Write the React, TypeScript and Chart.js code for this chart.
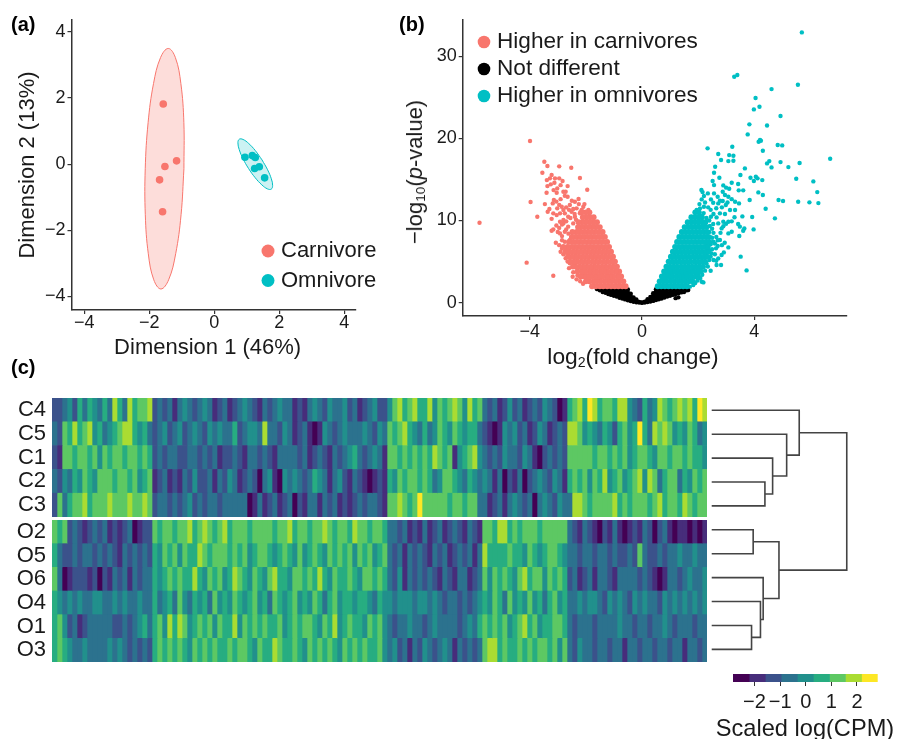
import React, { useEffect, useRef } from "react";
import { Chart, registerables } from "chart.js";

Chart.register(...registerables);

const FONT = "'Liberation Sans', Arial, sans-serif";
const INK = "#1a1a1a";
const AXIS = "#333333";
const RED = "#F8766D";
const TEAL = "#00BFC4";

// ---------- Panel (a) ----------
const carnivoreX = [-1.568, -1.158, -1.517, -1.681, -1.589];
const carnivoreY = [1.82, 0.1, -0.07, -0.474, -1.44];
const omnivoreX = [0.945, 1.17, 1.262, 1.242, 1.386, 1.55];
const omnivoreY = [0.21, 0.26, 0.2, -0.13, -0.08, -0.414];
const carnivoreEllipse = [
  [-0.932, -0.137], [-1.02, -1.529], [-1.186, -2.709], [-1.403, -3.498], [-1.64, -3.775],
  [-1.859, -3.498], [-2.028, -2.709], [-2.12, -1.529], [-2.122, -0.137], [-2.034, 1.255],
  [-1.868, 2.435], [-1.651, 3.224], [-1.414, 3.5], [-1.195, 3.224], [-1.026, 2.435],
  [-0.934, 1.255], [-0.932, -0.137],
];
const omnivoreEllipse = [
  [1.469, 0.13], [1.265, 0.409], [1.06, 0.626], [0.886, 0.748], [0.77, 0.755],
  [0.728, 0.648], [0.768, 0.442], [0.883, 0.169], [1.055, -0.13], [1.259, -0.409],
  [1.464, -0.626], [1.638, -0.748], [1.754, -0.755], [1.796, -0.648], [1.756, -0.442],
  [1.641, -0.169], [1.469, 0.13],
];

// ---------- Panel (b) ----------
const carnivoreDenseRows: [number, number[]][] = [
  [2.0, [-0.58, -0.7, -0.84, -0.97, -1.1, -1.24, -1.38, -1.5, -1.64, -1.78]],
  [2.6, [-0.66, -0.8, -0.93, -1.07, -1.2, -1.33, -1.47, -1.6, -1.73, -1.87, -2.0]],
  [3.2, [-0.74, -0.87, -1.01, -1.14, -1.27, -1.41, -1.54, -1.67, -1.81, -1.94, -2.07, -2.18]],
  [3.8, [-0.81, -0.94, -1.08, -1.22, -1.35, -1.48, -1.62, -1.75, -1.88, -2.02, -2.15, -2.3]],
  [4.4, [-0.89, -1.02, -1.15, -1.29, -1.42, -1.56, -1.69, -1.82, -1.96, -2.09, -2.22, -2.36, -2.46]],
  [5.0, [-0.96, -1.09, -1.23, -1.36, -1.5, -1.63, -1.76, -1.9, -2.03, -2.16, -2.3, -2.42, -2.56]],
  [5.6, [-1.03, -1.17, -1.3, -1.43, -1.57, -1.7, -1.83, -1.97, -2.1, -2.24, -2.37, -2.5, -2.64]],
  [6.2, [-1.1, -1.24, -1.37, -1.51, -1.64, -1.77, -1.91, -2.04, -2.17, -2.31, -2.44, -2.58, -2.72]],
  [6.8, [-1.17, -1.3, -1.44, -1.57, -1.71, -1.84, -1.97, -2.11, -2.24, -2.38, -2.5, -2.65, -2.8]],
  [7.4, [-1.24, -1.38, -1.51, -1.64, -1.78, -1.91, -2.05, -2.18, -2.31, -2.45, -2.6]],
  [8.0, [-1.32, -1.45, -1.58, -1.72, -1.85, -1.99, -2.12, -2.25, -2.38, -2.5]],
  [8.6, [-1.4, -1.53, -1.67, -1.8, -1.93, -2.06, -2.2, -2.33, -2.48]],
  [9.2, [-1.5, -1.63, -1.77, -1.9, -2.03, -2.16, -2.28]],
  [9.8, [-1.6, -1.73, -1.86, -2.0, -2.13, -2.26]],
  [10.4, [-1.72, -1.85, -1.98, -2.11]],
  [11.0, [-1.87, -2.0, -2.14]],
];
const carnivoreSparse = [
  [-5.79, 9.73], [-3.99, 19.67], [-3.48, 17.15], [-3.37, 16.63], [-2.95, 16.59], [-2.52, 16.42],
  [-3.55, 15.82], [-2.21, 15.17], [-1.95, 13.75], [-3.97, 12.25], [-3.73, 10.46], [-4.11, 4.87],
  [-3.16, 3.28], [-3.22, 15.53], [-3.28, 15.13], [-3.1, 15.13], [-2.95, 15.13], [-2.83, 14.8],
  [-3.39, 14.92], [-3.37, 14.19], [-3.4, 13.38], [-3.02, 13.91], [-2.65, 14.19], [-3.04, 13.38],
  [-2.8, 13.5], [-2.72, 13.5], [-3.46, 12.0], [-3.14, 12.49], [-3.18, 12.08], [-2.26, 12.61],
  [-2.39, 12.29], [-2.57, 11.88], [-3.36, 11.07], [-3.16, 10.87], [-3.02, 11.48], [-2.86, 11.68],
  [-2.8, 11.27], [-2.92, 10.87], [-2.75, 10.87], [-2.51, 11.07], [-2.33, 11.48], [-2.09, 11.68],
  [-1.91, 11.27], [-2.92, 9.85], [-2.8, 10.06], [-2.63, 10.46], [-2.45, 9.65], [-3.22, 8.76],
  [-3.16, 8.92], [-2.92, 8.43], [-2.75, 8.64], [-2.63, 9.25], [-3.07, 7.3], [-2.39, 10.46],
  [-2.21, 10.87], [-3.04, 10.66], [-2.8, 9.65], [-2.57, 7.62], [-2.75, 7.42], [-2.69, 6.61],
  [-2.47, 3.16], [-2.33, 2.84], [-2.15, 3.37], [-2.57, 4.79], [-2.45, 4.38], [-2.63, 6.0], [-2.51, 5.6],
  [-2.9, 12.6], [-2.65, 12.9], [-2.5, 12.4], [-2.7, 11.6], [-3.05, 12.3], [-2.95, 11.9], [-3.3, 11.4],
  [-3.22, 10.2], [-3.05, 9.4], [-2.95, 9.1], [-2.85, 9.5], [-2.7, 9.9], [-2.55, 10.3], [-2.7, 8.9],
  [-2.62, 8.4], [-2.85, 8.1], [-3.0, 8.6], [-2.85, 7.6], [-2.95, 7.0], [-2.85, 6.6], [-2.9, 6.2],
  [-2.8, 5.9], [-2.72, 5.4], [-2.65, 5.0], [-2.6, 4.2], [-2.45, 3.7], [-2.3, 3.3], [-2.2, 2.6],
  [-2.1, 2.3], [-2.35, 10.1], [-2.2, 11.0], [-2.4, 10.8], [-2.15, 11.3], [-2.05, 12.0], [-2.25, 12.0],
  [-2.45, 11.4], [-2.6, 11.3], [-3.25, 14.4], [-3.12, 14.6], [-2.9, 14.3], [-3.15, 13.7], [-2.75, 13.0],
];
const omnivoreDenseRows: [number, number[]][] = [
  [2.0, [0.56, 0.69, 0.82, 0.95, 1.08, 1.21, 1.34, 1.47, 1.6]],
  [2.6, [0.63, 0.76, 0.89, 1.03, 1.16, 1.29, 1.42, 1.55, 1.68, 1.81]],
  [3.2, [0.71, 0.84, 0.97, 1.1, 1.24, 1.37, 1.5, 1.63, 1.76, 1.9, 2.0]],
  [3.8, [0.79, 0.92, 1.05, 1.18, 1.32, 1.45, 1.58, 1.71, 1.84, 1.97, 2.1]],
  [4.4, [0.87, 1.0, 1.13, 1.26, 1.4, 1.53, 1.66, 1.79, 1.92, 2.05, 2.18]],
  [5.0, [0.95, 1.08, 1.21, 1.34, 1.47, 1.6, 1.73, 1.87, 2.0, 2.13, 2.25]],
  [5.6, [1.03, 1.16, 1.29, 1.42, 1.55, 1.68, 1.82, 1.95, 2.08, 2.21, 2.32]],
  [6.2, [1.1, 1.23, 1.37, 1.5, 1.63, 1.76, 1.89, 2.02, 2.15, 2.28, 2.38]],
  [6.8, [1.18, 1.31, 1.44, 1.57, 1.7, 1.83, 1.96, 2.09, 2.22, 2.35]],
  [7.4, [1.25, 1.38, 1.51, 1.64, 1.77, 1.9, 2.03, 2.16, 2.29, 2.4]],
  [8.0, [1.33, 1.46, 1.59, 1.72, 1.85, 1.98, 2.11, 2.24, 2.36]],
  [8.6, [1.42, 1.55, 1.68, 1.81, 1.94, 2.07, 2.2, 2.32]],
  [9.2, [1.52, 1.65, 1.78, 1.91, 2.04, 2.17, 2.3]],
  [9.8, [1.63, 1.76, 1.89, 2.02, 2.15, 2.26]],
  [10.4, [1.76, 1.89, 2.02, 2.14]],
  [11.0, [1.9, 2.03]],
];
const omnivoreSparse = [
  [5.7, 32.89], [5.56, 26.52], [4.62, 25.99], [3.4, 27.7], [3.29, 27.49], [4.05, 24.9], [4.19, 23.84],
  [3.99, 23.52], [4.94, 22.71], [3.83, 21.7], [4.46, 21.57], [3.77, 20.48], [4.21, 19.79], [4.16, 19.59],
  [4.24, 19.71], [3.22, 18.98], [4.84, 19.18], [5.0, 19.14], [2.34, 18.78], [4.31, 18.49], [2.72, 18.09],
  [3.11, 17.96], [3.26, 17.88], [2.82, 17.36], [3.08, 17.23], [3.26, 17.27], [6.71, 17.52], [4.94, 17.11],
  [5.62, 16.99], [4.54, 17.23], [4.46, 16.95], [5.22, 16.5], [4.62, 16.46], [2.61, 16.54], [3.67, 16.34],
  [2.57, 15.82], [3.51, 15.53], [2.76, 15.21], [3.87, 15.21], [4.06, 15.33], [4.12, 15.13], [3.99, 14.8],
  [4.29, 14.92], [5.5, 15.09], [6.11, 14.76], [2.52, 14.8], [2.57, 14.31], [3.43, 14.44], [2.9, 14.27],
  [2.12, 13.71], [2.16, 13.46], [3.11, 13.87], [2.88, 13.5], [3.45, 13.67], [3.61, 13.67], [4.15, 13.42],
  [4.31, 13.1], [6.25, 13.46], [2.57, 13.3], [2.96, 13.1], [3.08, 12.9], [2.21, 12.98], [2.13, 12.57],
  [2.46, 12.57], [2.78, 12.41], [2.88, 12.37], [3.84, 12.49], [4.87, 12.49], [5.03, 12.37], [5.57, 12.29],
  [5.97, 12.21], [6.29, 12.12], [3.32, 12.29], [3.46, 12.08], [2.54, 12.17], [2.72, 12.08], [2.99, 11.88],
  [2.36, 11.6], [2.21, 11.68], [2.07, 11.48], [1.95, 11.27], [4.41, 11.44], [3.14, 11.27], [3.32, 11.27],
  [2.78, 10.87], [2.96, 10.79], [3.58, 10.5], [3.93, 10.42], [4.74, 10.26], [2.46, 10.46], [2.66, 10.38],
  [2.9, 9.85], [3.08, 9.85], [2.72, 9.65], [2.54, 9.57], [2.42, 9.33], [3.43, 9.57], [3.49, 9.25],
  [3.65, 9.04], [3.98, 8.92], [3.61, 8.76], [2.84, 9.04], [3.08, 8.43], [3.2, 8.64], [3.47, 8.11],
  [2.54, 7.42], [2.78, 7.62], [2.42, 8.03], [3.08, 6.73], [2.64, 6.61], [2.92, 6.12], [3.52, 5.6],
  [2.72, 5.39], [2.84, 5.8], [2.66, 4.58], [2.82, 4.58], [3.73, 3.93], [2.45, 3.89], [2.13, 2.55],
  [2.19, 2.47], [1.83, 2.15], [1.71, 1.95], [2.3, 4.79], [2.48, 6.0],
  [2.3, 10.3], [2.2, 10.9], [2.1, 10.6], [2.4, 10.0], [2.5, 9.0], [2.4, 8.6], [2.55, 8.5], [2.65, 8.0],
  [2.7, 7.6], [2.5, 7.9], [2.6, 7.2], [2.7, 6.9], [2.85, 7.0], [2.95, 7.3], [2.5, 6.5], [2.45, 5.6],
  [2.6, 5.9], [2.55, 5.2], [2.65, 5.1], [2.4, 5.2], [2.35, 4.4], [2.25, 3.9], [2.15, 3.4], [2.08, 3.0],
  [1.98, 2.7], [1.9, 2.4], [2.3, 6.9], [2.45, 7.1], [2.8, 8.5], [2.9, 9.3], [3.0, 9.6], [3.2, 9.9],
  [3.3, 10.4], [2.55, 10.8], [2.45, 11.3], [2.65, 11.5], [2.85, 11.6], [3.05, 12.2], [3.2, 12.6],
  [2.7, 12.9], [3.0, 14.0], [3.2, 14.6], [2.25, 12.2], [2.05, 12.0], [2.35, 13.3],
];
const notDifferentColumns: [number, number[]][] = [
  [-1.6, [1.65]], [-1.5, [1.5, 1.75]], [-1.4, [1.3, 1.7]], [-1.3, [1.2, 1.6, 1.9]],
  [-1.2, [1.05, 1.4, 1.75]], [-1.1, [0.95, 1.3, 1.7, 1.95]], [-1.0, [0.85, 1.2, 1.55, 1.9]],
  [-0.9, [0.75, 1.1, 1.45, 1.8]], [-0.8, [0.6, 0.95, 1.3, 1.65, 1.95]], [-0.7, [0.5, 0.85, 1.2, 1.55, 1.9]],
  [-0.6, [0.4, 0.75, 1.05, 1.4, 1.75]], [-0.5, [0.3, 0.6, 0.95, 1.25, 1.6]], [-0.4, [0.2, 0.5, 0.8, 1.1]],
  [-0.3, [0.12, 0.4, 0.65]], [-0.2, [0.06, 0.28, 0.4]], [-0.1, [0.03, 0.1]], [0, [0, 0.02]],
  [0.1, [0.03, 0.12]], [0.2, [0.07, 0.3, 0.42]], [0.3, [0.14, 0.42, 0.7]], [0.4, [0.22, 0.55, 0.85, 1.15]],
  [0.5, [0.32, 0.65, 1.0, 1.35, 1.65]], [0.6, [0.42, 0.78, 1.1, 1.45, 1.8]], [0.7, [0.5, 0.85, 1.25, 1.6, 1.9]],
  [0.8, [0.62, 1.0, 1.35, 1.7, 1.95]], [0.9, [0.75, 1.1, 1.5, 1.85]], [1.0, [0.85, 1.2, 1.6, 1.9]],
  [1.1, [0.95, 1.3, 1.7, 1.95]], [1.2, [0.55, 1.05, 1.45, 1.8]], [1.3, [0.65, 1.15, 1.55, 1.85]],
  [1.4, [1.25, 1.6]], [1.5, [1.3, 1.65]], [1.6, [1.5, 1.7]], [1.65, [1.55]],
];

// ---------- Panel (c) ----------
const viridisBins = ["#440154", "#472D7B", "#3B528B", "#2C728E", "#21908C", "#27AD81", "#5DC863", "#AADC32", "#FDE725"];
const colorEdges = [-2.84, -2.21, -1.58, -0.96, -0.33, 0.3, 0.93, 1.55, 2.18, 2.81];
const carnivoreRowNames = ["C4", "C5", "C1", "C2", "C3"];
const omnivoreRowNames = ["O2", "O5", "O6", "O4", "O1", "O3"];

const C4 = [
  2,2,3,4,2, 5,3,5,4,3, 5,3,7,5,3, 7,5,6,6,7,
  2,3,2,3,1, 3,4,3,2,3, 4,3,1,2,3, 1,2,3,4,3, 2,1,3,2,3, 4,3,3,1,2, 1,3,4,3,2, 4,3,3,4,2, 3,1,2,3,4, 2,2,
  4,6,7,5,6, 7,5,5,7,4, 6,5,6,7,6, 4,7,5,6,
  3,2,3,1,2, 4,2,3,1,2, 3,2,4,3,2, 0,1,
  5,6,7,5,8, 7,5,6,6,5, 7,7,4,3,2, 5,3,4,7,6, 5,6,7,6,7, 5,8,7,
];
const C5 = [
  3,2,6,5,7, 5,6,7,4,5, 3,4,5,6,7, 7,5,4,5,3,
  2,3,4,2,3, 4,2,3,4,3, 2,4,3,4,3, 3,5,2,3,4, 4,3,7,3,3, 2,4,3,1,2, 3,1,0,1,4, 3,2,3,4,3, 3,3,4,3,2, 4,3,
  6,5,6,7,5, 4,3,5,3,4, 6,5,4,6,5, 4,5,5,3,
  2,1,0,1,4, 3,4,2,3,1, 2,4,3,1,2, 3,2,
  7,7,6,4,5, 4,3,5,4,2, 5,6,4,5,8, 5,3,7,6,7, 6,4,5,4,6, 5,3,4,
];
const C1 = [
  2,1,6,6,5, 6,6,5,6,4, 6,5,6,6,5, 6,6,5,6,5,
  2,3,2,3,3, 2,2,3,3,2, 3,2,3,1,2, 2,3,2,1,3, 3,2,3,2,1, 3,3,3,3,2, 3,1,2,3,2, 1,3,2,3,4, 5,3,2,3,4, 3,1,
  6,6,5,6,5, 6,5,6,5,7, 6,5,6,1,4, 5,6,7,4,
  3,2,3,2,4, 3,3,2,4,3, 1,0,2,3,2, 3,2,
  6,6,6,6,6, 5,6,6,5,6, 5,6,4,5,6, 6,5,4,6,6, 5,6,6,5,6, 5,5,4,
];
const C2 = [
  3,2,4,3,5, 4,6,5,4,6, 6,6,5,6,6, 5,6,4,5,6,
  1,2,3,1,2, 1,3,2,4,2, 2,3,1,3,2, 4,3,1,2,3, 2,0,3,4,1, 0,4,3,4,3, 2,3,5,4,3, 1,3,4,2,1, 3,2,1,0,1, 2,1,
  5,4,6,5,6, 6,5,6,5,3, 4,6,6,5,4, 3,5,4,3,
  4,3,1,3,0, 2,1,3,0,2, 3,4,3,2,4, 3,1,
  5,6,5,6,4, 6,5,7,4,5, 6,4,5,6,7, 4,7,6,3,5, 6,6,3,5,4, 6,5,6,
];
const C3 = [
  2,6,3,5,6, 6,7,5,6,6, 6,7,6,6,6, 7,6,6,7,6,
  2,3,3,2,3, 2,3,4,2,3, 2,3,3,2,3, 3,3,3,3,0, 1,3,1,2,3, 1,2,3,0,2, 1,3,3,1,3, 2,3,1,2,1, 2,3,2,3,3, 2,1,
  6,6,7,6,5, 6,8,6,6,6, 6,6,5,6,6, 5,6,6,3,
  3,1,2,3,1, 3,4,3,2,3, 0,3,4,3,2, 4,3,
  3,7,7,6,5, 6,6,6,6,7, 5,6,5,6,6, 6,5,6,7,5, 6,6,5,7,6, 5,6,6,
];
const O2 = [
  6,5,6,2,3, 2,1,2,3,2, 3,1,2,1,2, 3,0,1,2,2,
  6,5,6,6,5, 6,6,7,5,6, 7,6,5,6,7, 5,6,6,6,5, 6,6,6,6,5, 6,6,7,5,6, 6,5,6,6,7, 6,5,6,6,5, 7,6,6,5,6, 6,5,
  3,3,2,3,1, 2,1,3,1,2, 3,1,2,3,2, 1,3,2,1,
  6,6,5,7,7, 5,6,5,6,6, 6,5,6,6,6, 6,6,
  3,2,1,3,2, 1,0,2,1,3, 1,0,1,2,1, 3,2,0,2,3, 1,0,1,1,0, 1,0,1,
];
const O5 = [
  5,3,2,2,3, 2,3,3,2,3, 2,3,2,1,3, 2,3,2,3,2,
  5,4,6,5,6, 4,6,5,5,7, 6,5,6,6,6, 5,6,5,6,4, 5,6,6,5,4, 5,6,5,4,6, 4,5,6,5,4, 6,5,6,5,6, 4,6,5,6,4, 5,6,
  3,2,3,1,3, 2,3,2,1,3, 2,3,1,2,3, 2,3,1,3,
  7,5,5,5,5, 6,5,5,4,6, 5,4,5,6,6, 5,4,
  3,3,2,3,3, 2,3,3,2,3, 2,2,3,2,6, 3,2,2,3,2, 3,3,4,3,3, 4,3,3,
];
const O6 = [
  6,3,0,1,2, 2,2,1,2,0, 2,1,3,2,3, 1,3,2,3,3,
  5,4,5,6,5, 6,5,5,7,5, 4,6,5,6,4, 5,7,6,5,4, 6,5,4,6,7, 5,5,4,6,6, 5,6,5,7,5, 4,6,5,5,6, 5,4,6,6,5, 6,5,
  3,2,4,1,3, 2,3,2,3,2, 1,3,2,1,3, 3,1,2,3,
  6,4,6,5,6, 5,4,6,7,5, 6,6,4,6,5, 6,5,
  2,3,1,2,3, 1,3,3,2,1, 3,3,3,3,2, 3,2,1,0,1, 3,3,2,3,4, 3,3,4,
];
const O4 = [
  5,4,3,4,3, 4,3,3,4,4, 3,3,4,3,4, 3,3,4,3,3,
  5,3,4,5,3, 6,4,3,5,4, 5,3,6,4,5, 4,6,5,4,5, 6,4,5,3,6, 5,4,5,6,4, 5,4,6,5,3, 5,6,4,5,5, 4,5,5,4,3, 5,4,
  4,3,4,4,4, 3,4,4,3,4, 3,2,3,3,2, 3,2,3,4,
  5,4,6,5,3, 6,4,5,4,6, 4,5,3,5,6, 4,5,
  3,3,4,3,4, 4,3,2,4,3, 4,3,2,4,3, 4,3,3,2,4, 3,4,3,4,3, 4,3,4,
];
const O1 = [
  5,6,4,2,3, 1,2,3,3,3, 3,3,2,2,3, 2,3,4,5,3,
  5,6,4,7,5, 7,6,4,5,6, 5,6,4,6,5, 5,7,4,6,5, 6,5,6,5,5, 6,4,5,6,5, 6,6,5,4,6, 5,7,4,5,6, 5,5,4,6,5, 6,4,
  3,2,3,3,4, 3,3,2,3,4, 3,3,3,3,2, 3,4,3,5,
  6,5,6,5,6, 4,5,6,7,5, 6,4,5,5,6, 6,5,
  3,2,3,3,3, 2,3,3,3,3, 4,3,3,2,3, 3,2,3,3,4, 3,2,3,3,3, 2,3,3,
];
const O3 = [
  5,6,5,4,3, 3,4,3,3,3, 3,4,3,4,3, 2,3,2,3,2,
  5,6,5,6,5, 6,5,4,6,5, 6,5,6,5,5, 6,5,6,6,5, 4,6,5,5,7, 6,5,5,6,5, 4,6,5,6,5, 6,5,4,6,5, 6,5,6,5,5, 6,4,
  3,4,2,3,1, 3,2,4,3,2, 3,4,3,1,3, 2,3,2,3,
  6,7,7,5,6, 5,5,6,5,6, 5,6,6,5,6, 4,6,
  3,2,4,3,3, 2,3,3,2,3, 3,1,3,3,2, 3,3,2,3,3, 2,3,3,1,3, 3,2,3,
];

// Dendrogram merges: [y of child a, y of child b, height of child a, height of child b, merge height]
const dendrogramMerges = [
  [3, 4, 0, 0, 0.394],
  [2, 3.5, 0, 0.394, 0.451],
  [1, 2.75, 0, 0.451, 0.555],
  [0, 1.875, 0, 0.555, 0.648],
  [5, 6, 0, 0, 0.307],
  [9, 10, 0, 0, 0.295],
  [8, 9.5, 0, 0.295, 0.361],
  [7, 8.75, 0, 0.361, 0.381],
  [5.5, 7.875, 0.307, 0.381, 0.498],
  [0.9375, 6.6875, 0.648, 0.498, 1.0],
];

const minus = (v: number | string) => String(v).replace("-", "\u2212");
const flatY = (rows: [number, number[]][]) => rows.flatMap(([y, xs]) => xs.map((x) => ({ x, y })));
const flatX = (cols: [number, number[]][]) => cols.flatMap(([x, ys]) => ys.map((y) => ({ x, y })));
const pairs = (arr: number[][]) => arr.map(([x, y]) => ({ x, y }));

const legendPlugin = {
  id: "panelLegend",
  afterDraw(chart: any, _a: any, opts: any) {
    if (!opts.items) return;
    const { ctx } = chart;
    ctx.save();
    ctx.font = `${opts.size}px ${FONT}`;
    ctx.textBaseline = "middle";
    opts.items.forEach((it: any) => {
      ctx.fillStyle = it.color;
      ctx.beginPath();
      ctx.arc(opts.x, it.y, opts.radius, 0, Math.PI * 2);
      ctx.fill();
      ctx.fillStyle = INK;
      ctx.fillText(it.label, opts.textX, it.y);
    });
    ctx.restore();
  },
};

const noPad = (s: any) => { s.paddingTop = 0; s.paddingBottom = 0; s.paddingLeft = 0; s.paddingRight = 0; };

const axisX = (min: number, max: number, step: number, height: number, tickSize: number, pad: number, title?: any) => ({
  type: "linear",
  min,
  max,
  afterFit: (s: any) => { s.height = height; noPad(s); },
  border: { display: true, color: AXIS, width: 1.5 },
  grid: { display: true, drawOnChartArea: false, drawTicks: true, tickLength: 4, color: AXIS, lineWidth: 1.2 },
  ticks: { stepSize: step, includeBounds: false, maxRotation: 0, color: INK, padding: pad, font: { family: FONT, size: tickSize }, callback: (v: number) => minus(v) },
  title: title ?? { display: false },
});
const axisY = (min: number, max: number, step: number, width: number, tickSize: number, title?: any) => ({
  type: "linear",
  min,
  max,
  afterFit: (s: any) => { s.width = width; noPad(s); },
  border: { display: true, color: AXIS, width: 1.5 },
  grid: { display: true, drawOnChartArea: false, drawTicks: true, tickLength: 4, color: AXIS, lineWidth: 1.2 },
  ticks: { stepSize: step, includeBounds: false, color: INK, padding: 2, font: { family: FONT, size: tickSize }, callback: (v: number) => minus(v) },
  title: title ?? { display: false },
});

function useChart(build: () => any) {
  const ref = useRef<HTMLCanvasElement | null>(null);
  useEffect(() => {
    const chart = new Chart(ref.current as HTMLCanvasElement, build());
    return () => chart.destroy();
  }, []);
  return ref;
}

const common = { responsive: false, animation: false, events: [] as string[] };

function Canvas({ build, left, top, width, height, blur }: any) {
  const ref = useChart(build);
  return (
    <canvas
      ref={ref}
      width={width}
      height={height}
      style={{ position: "absolute", left, top, width, height, filter: blur ? `blur(${blur}px)` : undefined }}
    />
  );
}

const panelA = () => ({
  type: "scatter",
  data: {
    datasets: [
      { label: "Carnivore ellipse", data: pairs(carnivoreEllipse), showLine: true, pointRadius: 0, tension: 0.4, borderColor: RED, borderWidth: 1, backgroundColor: "rgba(248,118,109,0.25)", fill: "shape", order: 2 },
      { label: "Omnivore ellipse", data: pairs(omnivoreEllipse), showLine: true, pointRadius: 0, tension: 0.4, borderColor: TEAL, borderWidth: 1, backgroundColor: "rgba(0,191,196,0.2)", fill: "shape", order: 2 },
      { label: "Carnivore", data: carnivoreX.map((x, i) => ({ x, y: carnivoreY[i] })), pointRadius: 3.8, backgroundColor: RED, borderWidth: 0, order: 1 },
      { label: "Omnivore", data: omnivoreX.map((x, i) => ({ x, y: omnivoreY[i] })), pointRadius: 3.8, backgroundColor: TEAL, borderWidth: 0, order: 1 },
    ],
  },
  options: {
    ...common,
    layout: { autoPadding: false, padding: { top: 20, right: 44, left: 0, bottom: 0 } },
    scales: {
      x: axisX(-4.39, 4.36, 2, 60, 18, -2, { display: true, text: "Dimension 1 (46%)  ", color: INK, font: { family: FONT, size: 22 }, padding: { top: 0, bottom: 8.8 } }),
      y: axisY(-4.41, 4.36, 2, 71.5, 18, { display: true, text: "Dimension 2 (13%)", color: INK, font: { family: FONT, size: 22 }, padding: { top: 15, bottom: 0 } }),
    },
    plugins: {
      legend: { display: false },
      tooltip: { enabled: false },
      panelLegend: { x: 268, textX: 281, size: 22, radius: 6.5, items: [{ label: "Carnivore", color: RED, y: 251 }, { label: "Omnivore", color: TEAL, y: 280.5 }] },
    },
  },
  plugins: [legendPlugin],
});

const panelB = () => ({
  type: "scatter",
  data: {
    datasets: [
      { label: "Higher in carnivores (dense)", data: flatY(carnivoreDenseRows), pointRadius: 2.9, backgroundColor: RED, borderWidth: 0 },
      { label: "Higher in carnivores", data: pairs(carnivoreSparse), pointRadius: 2.2, backgroundColor: RED, borderWidth: 0 },
      { label: "Higher in omnivores (dense)", data: flatY(omnivoreDenseRows), pointRadius: 2.9, backgroundColor: TEAL, borderWidth: 0 },
      { label: "Higher in omnivores", data: pairs(omnivoreSparse), pointRadius: 2.2, backgroundColor: TEAL, borderWidth: 0 },
      { label: "Not different", data: flatX(notDifferentColumns), pointRadius: 2.2, backgroundColor: "#000000", borderWidth: 0 },
    ],
  },
  options: {
    ...common,
    layout: { autoPadding: false, padding: { top: 20, right: 13, left: 0, bottom: 0 } },
    scales: {
      x: axisX(-6.39, 7.31, 4, 54, 18, 1),
      y: axisY(-1.62, 34.4, 10, 62.7, 18),
    },
    plugins: {
      legend: { display: false },
      tooltip: { enabled: false },
      panelLegend: {
        x: 84, textX: 97, size: 22.6, radius: 6.3,
        items: [
          { label: "Higher in carnivores", color: RED, y: 42 },
          { label: "Not different", color: "#000000", y: 69 },
          { label: "Higher in omnivores", color: TEAL, y: 96 },
        ],
      },
    },
  },
  plugins: [legendPlugin],
});

const heatmap = (rows: number[][], names: string[]) => () => ({
  type: "bar",
  data: {
    labels: names,
    datasets: rows[0].map((_, c) => ({
      label: `gene ${c + 1}`,
      data: rows.map(() => 1),
      backgroundColor: rows.map((r) => viridisBins[r[c]]),
      borderWidth: 0,
      barPercentage: 1,
      categoryPercentage: 1,
    })),
  },
  options: {
    ...common,
    indexAxis: "y",
    layout: { autoPadding: false, padding: 0 },
    scales: {
      x: { type: "linear", stacked: true, min: 0, max: rows[0].length, display: false },
      y: {
        stacked: true,
        afterFit: (s: any) => { s.width = 52; noPad(s); },
        border: { display: false },
        grid: { display: false },
        ticks: { autoSkip: false, color: INK, padding: -2, font: { family: FONT, size: 22 } },
      },
    },
    plugins: { legend: { display: false }, tooltip: { enabled: false } },
  },
});

const dendrogram = () => ({
  type: "scatter",
  data: {
    datasets: dendrogramMerges.map(([ya, yb, ha, hb, h], i) => ({
      label: `merge ${i + 1}`,
      data: [{ x: ha, y: ya }, { x: h, y: ya }, { x: h, y: yb }, { x: hb, y: yb }],
      showLine: true,
      pointRadius: 0,
      tension: 0,
      borderColor: "#444444",
      borderWidth: 1.6,
    })),
  },
  options: {
    ...common,
    layout: { autoPadding: false, padding: 0 },
    scales: {
      x: { type: "linear", min: -0.0867, max: 1.098, display: false },
      y: { type: "linear", min: -0.515, max: 10.53, reverse: true, display: false },
    },
    plugins: { legend: { display: false }, tooltip: { enabled: false } },
  },
});

const colorbar = () => ({
  type: "bar",
  data: {
    labels: ["Scaled log(CPM)"],
    datasets: viridisBins.map((c, i) => ({
      label: `bin ${i + 1}`,
      data: [[colorEdges[i], colorEdges[i + 1]]],
      backgroundColor: c,
      borderWidth: 0,
      grouped: false,
      barPercentage: 1,
      categoryPercentage: 1,
    })),
  },
  options: {
    ...common,
    indexAxis: "y",
    layout: { autoPadding: false, padding: { top: 9, left: 33, right: 29.3, bottom: 0 } },
    scales: {
      x: {
        type: "linear",
        min: colorEdges[0],
        max: colorEdges[colorEdges.length - 1],
        afterFit: (s: any) => { s.height = 63; noPad(s); },
        border: { display: false },
        grid: { display: true, drawOnChartArea: false, drawTicks: true, tickLength: 4, color: AXIS, lineWidth: 1 },
        ticks: { stepSize: 1, includeBounds: false, maxRotation: 0, color: INK, padding: 4, font: { family: FONT, size: 20 }, callback: (v: number) => minus(v) },
      },
      y: { display: false },
    },
    plugins: { legend: { display: false }, tooltip: { enabled: false } },
  },
});

const labelStyle = (left: number, top: number): React.CSSProperties => ({
  position: "absolute", left, top, font: `bold 20px ${FONT}`, color: "#000", lineHeight: "24px", whiteSpace: "nowrap",
});
const subStyle: React.CSSProperties = { fontSize: "0.62em", lineHeight: 0, verticalAlign: "-0.25em" };

export default function App() {
  return (
    <div style={{ position: "absolute", left: 0, top: 0, width: 907, height: 739, overflow: "hidden", background: "#fff" }}>
      <Canvas build={panelA} left={0} top={0} width={400} height={370} />
      <Canvas build={panelB} left={400} top={0} width={460} height={370} />
      <Canvas build={heatmap([C4, C5, C1, C2, C3], carnivoreRowNames)} left={0} top={398} width={707} height={119} blur={0.5} />
      <Canvas build={heatmap([O2, O5, O6, O4, O1, O3], omnivoreRowNames)} left={0} top={520} width={707} height={142} blur={0.5} />
      <Canvas build={dendrogram} left={700} top={398} width={160} height={264} />
      <Canvas build={colorbar} left={700} top={665} width={207} height={80} />
      <div style={labelStyle(11, 12)}>(a)</div>
      <div style={labelStyle(399, 12)}>(b)</div>
      <div style={labelStyle(11, 355)}>(c)</div>
      <div style={{ position: "absolute", left: 633, top: 356, transform: "translate(-50%,-50%)", font: `22.8px ${FONT}`, color: INK, whiteSpace: "nowrap" }}>
        log<sub style={subStyle}>2</sub>(fold change)
      </div>
      <div style={{ position: "absolute", left: 415, top: 172, transform: "translate(-50%,-50%) rotate(-90deg)", font: `22px ${FONT}`, color: INK, whiteSpace: "nowrap" }}>
        {"\u2212log"}<sub style={subStyle}>10</sub>(<i>p</i>-value)
      </div>
      <div style={{ position: "absolute", left: 805, top: 728, transform: "translate(-50%,-50%)", font: `23.6px ${FONT}`, color: INK, whiteSpace: "nowrap" }}>
        Scaled log(CPM)
      </div>
    </div>
  );
}
